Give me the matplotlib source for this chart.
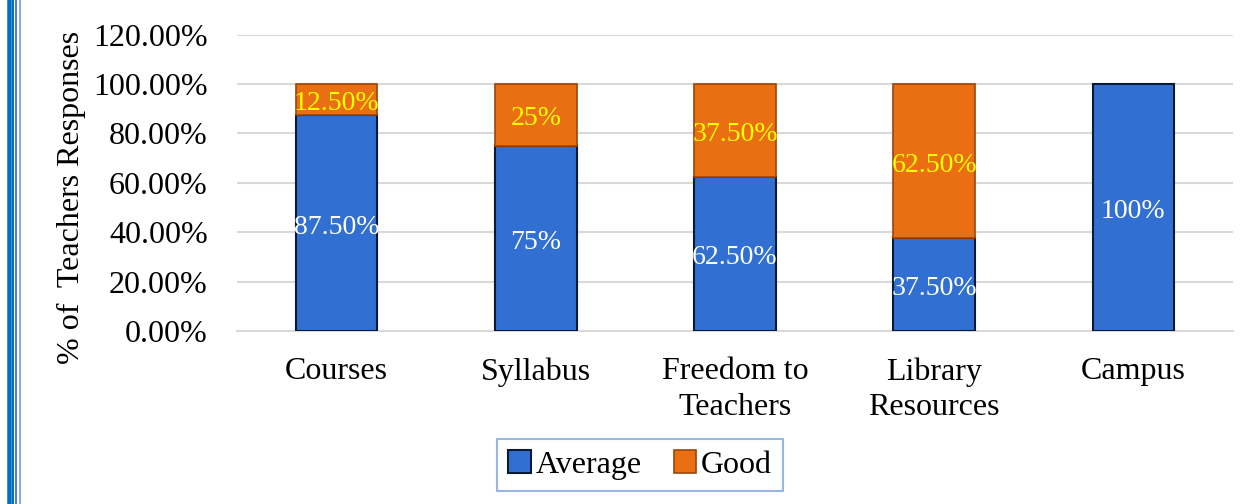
import matplotlib.pyplot as plt
from matplotlib.lines import Line2D

# Data
categories = ['Courses', 'Syllabus', 'Freedom to\nTeachers', 'Library\nResources', 'Campus']
average = [87.5, 75, 62.5, 37.5, 100]
good = [12.5, 25, 37.5, 62.5, 0]
average_labels = ['87.50%', '75%', '62.50%', '37.50%', '100%']
good_labels = ['12.50%', '25%', '37.50%', '62.50%', '']
yticks = [0, 20, 40, 60, 80, 100, 120]

plt.rcParams['font.family'] = ['Liberation Serif', 'DejaVu Serif']

fig = plt.figure(figsize=(12.58, 5.04), dpi=100)
ax = fig.add_axes([237 / 1258, 1 - 331 / 504, (1233 - 237) / 1258, (331 - 34.5) / 504])

x = range(len(categories))
bars_avg = ax.bar(x, average, width=0.41, color='#3170D2', edgecolor='#0B1A33',
                  linewidth=1.5, label='Average', zorder=3)
bars_good = ax.bar(x, good, width=0.41, bottom=average, color='#EA6F12',
                   edgecolor='#9A4508', linewidth=1.2, label='Good', zorder=3)
# no outline for empty segments
for patch, v in zip(bars_good, good):
    if v == 0:
        patch.set_linewidth(0)

ax.bar_label(bars_avg, labels=average_labels, label_type='center',
             color='white', fontsize=20, padding=-3)
ax.bar_label(bars_good, labels=good_labels, label_type='center',
             color='#FFFF00', fontsize=20, padding=-3)

ax.set_xlim(-0.5, 4.5)
ax.set_ylim(0, 120)
ax.set_yticks(yticks)
ax.set_yticklabels([f'{v:.2f}%' for v in yticks], fontsize=23)
ax.set_xticks(list(x))
ax.set_xticklabels(categories, fontsize=23, linespacing=1.3)
ax.tick_params(axis='both', length=0)
ax.tick_params(axis='y', pad=21)
ax.tick_params(axis='x', pad=19)

ax.grid(axis='y', color='#D9D9D9', linewidth=1.5, zorder=0)
for side in ['top', 'right', 'left']:
    ax.spines[side].set_visible(False)
ax.spines['bottom'].set_color('#D9D9D9')
ax.spines['bottom'].set_linewidth(1.5)

ax.set_ylabel('% of  Teachers Responses', fontsize=23)
ax.yaxis.set_label_coords(-0.152, 0.45)

leg = fig.legend(loc='center', bbox_to_anchor=(640 / 1258, 1 - 465 / 504),
                 ncol=2, fontsize=23, frameon=True, fancybox=False,
                 handlelength=0.7, handleheight=0.7, handletextpad=0.15,
                 columnspacing=1.0, borderpad=0.35)
leg.get_frame().set_edgecolor('#7FA7DC')
leg.get_frame().set_linewidth(1.5)

# Page border lines on the left
for xp, w, c in [(9, 4.5, '#0070C0'), (13, 2, '#0070C0'), (16, 2, '#4F7FD0'), (19.5, 2, '#8FAEE0')]:
    fig.add_artist(Line2D([xp / 1258, xp / 1258], [0, 1], linewidth=w * 0.72, color=c))

fig.savefig('out.png', dpi=100)
